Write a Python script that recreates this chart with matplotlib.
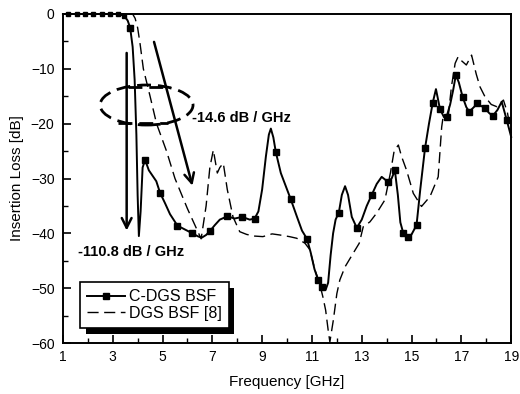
import matplotlib
matplotlib.use("Agg")
import matplotlib.pyplot as plt
from matplotlib.patches import Ellipse
from matplotlib import patheffects
from matplotlib.ticker import MultipleLocator
from matplotlib.lines import Line2D

plt.rcParams['font.family'] = ['Liberation Sans', 'DejaVu Sans']

# C-DGS BSF (solid with square markers)
c_freq = [1.0, 1.2, 1.55, 1.9, 2.2, 2.55, 2.9, 3.2, 3.45, 3.6, 3.7, 3.8, 3.88, 3.95, 4.0, 4.05,
          4.12, 4.2, 4.3, 4.45, 4.6, 4.75, 4.9, 5.1, 5.3, 5.6, 5.9, 6.2, 6.4, 6.57, 6.75, 6.9,
          7.1, 7.3, 7.6, 7.9, 8.2, 8.5, 8.7, 8.85, 9.0, 9.15, 9.27, 9.35, 9.45, 9.55, 9.75, 10.0,
          10.15, 10.4, 10.6, 10.8, 10.95, 11.1, 11.25, 11.4, 11.55, 11.65, 11.75, 11.85, 11.95,
          12.08, 12.2, 12.33, 12.45, 12.6, 12.8, 13.0, 13.2, 13.4, 13.6, 13.8, 14.05, 14.2, 14.33,
          14.45, 14.55, 14.67, 14.86, 15.0, 15.2, 15.35, 15.54, 15.7, 15.85, 15.98, 16.14, 16.3,
          16.41, 16.55, 16.67, 16.78, 16.9, 17.05, 17.2, 17.32, 17.5, 17.64, 17.8, 17.95, 18.1,
          18.26, 18.45, 18.62, 18.82, 19.0]
c_db = [0, 0, 0, 0, 0, 0, 0, 0, -0.3, -1.2, -2.5, -6, -12, -22, -33, -40.5,
        -36, -28, -26.6, -28.5, -29.5, -30.5, -32.6, -34.5, -36.5, -38.6, -39.3, -40, -40.5, -40.8, -40.3, -39.6,
        -38.5, -37.5, -36.9, -37.3, -37, -37.5, -37.3, -36, -32, -26, -22, -20.9, -22.5, -25.2, -29, -32,
        -33.8, -37, -39.5, -41, -43.5, -46.5, -48.5, -49.7, -50.3, -49, -44, -40, -37.5,
        -36.2, -33, -31.4, -33, -37, -39, -37.5, -35, -33, -31, -29.7, -30.6, -30, -28.5,
        -33, -38, -40, -40.6, -40.2, -38.5, -32, -24.5, -20, -16.2, -13.7, -17.3, -18.8,
        -18.7, -16.5, -13.9, -11.1, -12.5, -15.1, -17, -17.8, -17, -16.3, -16.8, -17.1, -18,
        -18.6, -17.5, -16, -19.3, -22.4]
c_marker_f = [3.7, 4.3, 4.9, 5.6, 6.2, 6.9, 7.6, 8.2, 8.7, 9.55, 10.15, 10.8, 11.25, 11.4,
              12.08, 12.8, 13.4, 14.05, 14.33, 14.67, 14.86, 15.2, 15.54, 15.85, 16.14, 16.41,
              16.78, 17.05, 17.32, 17.64, 17.95, 18.26, 18.82]
c_dot_f = [1.2, 1.55, 1.9, 2.2, 2.55, 2.9, 3.2, 3.45]

# DGS BSF [8] (dashed)
d_freq = [1.0, 3.8, 3.9, 4.0, 4.1, 4.23, 4.5, 4.76, 5.16, 5.5, 6.0, 6.3, 6.55, 6.75, 6.9, 7.04,
          7.2, 7.3, 7.44, 7.6, 7.83, 8.1, 8.38, 8.7, 9.03, 9.4, 9.71, 10.1, 10.39, 10.72, 10.92,
          11.12, 11.3, 11.44, 11.55, 11.65, 11.72, 11.8, 11.86, 12.0, 12.12, 12.33, 12.66, 12.9,
          13.06, 13.33, 13.6, 13.93, 14.15, 14.3, 14.47, 14.6, 14.8, 15.07, 15.4, 15.74, 16.07,
          16.21, 16.27, 16.48, 16.6, 16.75, 16.87, 17.0, 17.2, 17.41, 17.6, 17.75, 17.95, 18.2,
          18.42, 18.69, 18.85, 19.0]
d_db = [0, 0, -0.8, -2.5, -5.5, -10, -15, -20, -25, -30, -35.5, -38.5, -41, -35, -28, -24.8,
        -29, -28, -27.2, -32, -37, -39.7, -40.2, -40.5, -40.6, -40.1, -40.3, -40.6, -40.9, -41.8, -43,
        -46.7, -49, -51.6, -54, -57.6, -59.8, -57.5, -55.8, -51, -48.5, -46.1, -43.6, -41.8,
        -38.8, -37.9, -36.3, -33.9, -29, -25, -23.9, -26, -28.5, -32.7, -35.1, -33.3, -29.7,
        -20.6, -18.7, -18.4, -13.3, -9, -7.8, -8.5, -9.3, -7.5, -11, -13.3, -15.1, -16.5,
        -16.9, -15.7, -18, -21.7]

x_ticks = [1, 3, 5, 7, 9, 11, 13, 15, 17, 19]
y_ticks = [0, -10, -20, -30, -40, -50, -60]
series_labels = ['C-DGS BSF', 'DGS BSF [8]']

fig = plt.figure(figsize=(5.2, 3.94), dpi=100)
ax = fig.add_axes([0.121, 0.1294, 0.862, 0.8351])

ax.plot(d_freq, d_db, color='black', lw=1.0, ls=(0, (8, 4)), clip_on=False, zorder=3)
c_idx = [c_freq.index(f) for f in c_marker_f]
dot_idx = [c_freq.index(f) for f in c_dot_f]
ax.plot(c_freq, c_db, color='black', lw=1.4, marker='s', ms=4.2, markevery=c_idx,
        clip_on=False, zorder=4)
ax.plot([c_freq[i] for i in dot_idx], [c_db[i] for i in dot_idx], ls='none', marker='s',
        ms=2.2, color='black', clip_on=False, zorder=4)

ax.set_xlim(1, 19)
ax.set_ylim(-60, 0)
ax.set_xticks(x_ticks)
ax.set_yticks(y_ticks)
ax.xaxis.set_minor_locator(MultipleLocator(1))
ax.yaxis.set_minor_locator(MultipleLocator(5))
ax.tick_params(which='major', direction='in', length=6, width=1.2, labelsize=10, pad=6)
ax.tick_params(which='minor', direction='in', length=3.5, width=1.0)
ax.tick_params(axis='x', which='major', pad=5)
for s in ax.spines.values():
    s.set_linewidth(1.4)

ax.set_xlabel('Frequency [GHz]', fontsize=11, labelpad=8)
ax.set_ylabel('Insertion Loss [dB]', fontsize=11, labelpad=5)

# Annotations
dash = (0, (5, 2.5))
ell = Ellipse((4.36, -16.6), 3.73, 7.3, fill=False, ec='black', lw=2.0, ls=dash, zorder=5)
ax.add_patch(ell)
ax.plot([3.6, 5.3], [-13.4, -13.4], color='black', lw=2.0, ls=dash, zorder=5)
ax.plot([3.2, 5.2], [-19.9, -19.9], color='black', lw=2.0, ls=dash, zorder=5)

ax.annotate('', xy=(3.56, -40), xytext=(3.56, -6.6),
            arrowprops=dict(arrowstyle='->,head_length=0.7,head_width=0.35', lw=1.8, color='black'))
ax.annotate('', xy=(6.23, -31.8), xytext=(4.63, -4.6),
            arrowprops=dict(arrowstyle='->,head_length=0.7,head_width=0.35', lw=1.8, color='black'))

ax.text(6.2, -19.0, '-14.6 dB / GHz', fontsize=10.5, fontweight='bold', va='center', ha='left')
ax.text(1.6, -43.4, '-110.8 dB / GHz', fontsize=10.5, fontweight='bold', va='center', ha='left')

h1 = Line2D([], [], color='black', lw=1.4, marker='s', ms=4.5)
h2 = Line2D([], [], color='black', lw=1.0, ls=(0, (8, 4)))
leg = ax.legend([h1, h2], series_labels, loc='upper left', bbox_to_anchor=(0.038, 0.185),
                borderaxespad=0, fontsize=11.5, handlelength=2.4, handletextpad=0.2,
                fancybox=False, framealpha=1, edgecolor='black', borderpad=0.45, labelspacing=0.1)
leg.get_frame().set_linewidth(1.2)
leg.get_frame().set_path_effects([patheffects.SimplePatchShadow(offset=(4, -4), shadow_rgbFace='black', alpha=1),
                                  patheffects.Normal()])

fig.savefig('out.png', dpi=100)
